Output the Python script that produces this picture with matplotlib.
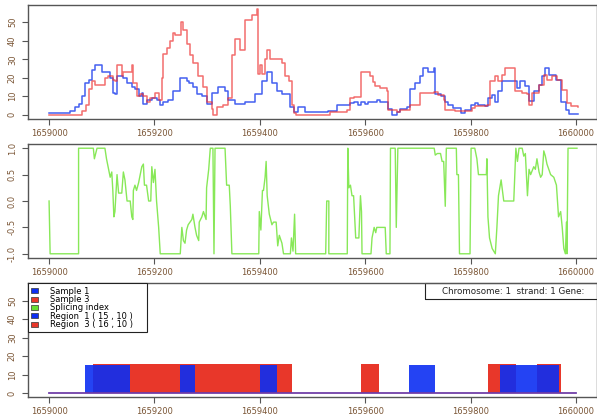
import numpy as np
import matplotlib
matplotlib.use('Agg')
import matplotlib.pyplot as plt
from matplotlib.patches import Patch

plt.rcParams['font.family'] = ['DejaVu Sans']

start = 1659000
end = 1660000

# coverage, sample 1 (blue) - offsets from start, value
s1_pos = [0, 34, 40, 49, 56, 62, 68, 75, 81, 87, 97, 100, 110, 116, 122, 125, 128, 141, 147, 157,
          163, 170, 176, 179, 185, 195, 204, 211, 217, 226, 236, 249, 255, 261, 265, 274, 280, 290,
          299, 309, 321, 334, 340, 353, 372, 391, 404, 413, 423, 432, 442, 458, 464, 473, 486, 499,
          527, 530, 546, 571, 578, 587, 593, 600, 606, 622, 628, 644, 651, 660, 666, 679, 685, 694,
          704, 709, 720, 730, 733, 743, 752, 758, 767, 781, 790, 800, 809, 815, 828, 834, 840, 847,
          853, 859, 868, 885, 888, 894, 904, 910, 920, 930, 936, 941, 949, 962, 971, 981, 987, 1003]
s1_val = [1, 1, 2, 4, 6, 10, 17, 19, 24, 27, 27, 23, 23, 20, 12, 11, 21, 20, 17, 15,
          14, 10, 12, 6, 8, 9, 8, 5, 7, 8, 13, 20, 20, 18, 17, 15, 11, 10,
          6, 12, 15, 13, 8, 6, 7, 11, 18, 23, 17, 13, 11, 4, 1.5, 4, 1.5, 1.3,
          1.3, 2.2, 5.4, 6.3, 7, 5, 7, 6, 7, 8, 7, 3, 0, 1.5, 3, 4, 14, 17.4,
          21, 25, 23, 25, 11, 10, 7, 5.4, 3.6, 0.9, 2.7, 5.4, 6.3, 5.4, 4.5, 9, 10.8, 7,
          12.6, 18.4, 18.4, 18, 14.4, 18, 15.3, 7.2, 12.6, 16.2, 20.7, 25, 21.6, 18.9, 7, 2.7, 0.4, 0.4]

# coverage, sample 3 (red)
s3_pos = [0, 56, 62, 71, 75, 81, 87, 97, 106, 112, 122, 125, 128, 138, 141, 154, 157, 160, 166, 173,
          179, 185, 192, 201, 209, 214, 217, 223, 230, 236, 239, 245, 251, 255, 261, 268, 274, 283,
          293, 299, 309, 312, 318, 331, 340, 347, 353, 363, 372, 385, 394, 397, 400, 404, 410, 413,
          419, 432, 442, 448, 455, 461, 465, 468, 527, 533, 565, 571, 578, 593, 609, 615, 619, 628,
          641, 644, 660, 666, 685, 704, 730, 739, 749, 752, 758, 771, 802, 809, 831, 837, 847, 853,
          859, 866, 882, 885, 898, 907, 910, 917, 930, 939, 945, 955, 965, 974, 983, 990, 1003]
s3_val = [0, 0, 2, 5, 14, 18, 16, 16, 20, 21, 19, 18, 27, 21, 23, 23, 27, 17, 10, 11,
          10, 7, 9, 12, 8, 20, 33, 36, 40, 44, 43, 43, 50, 46, 38, 32, 28, 21,
          15, 7, 3, 0, 4, 5, 9, 32, 41, 35, 51, 54, 57, 22, 27, 22, 30, 35,
          30, 30, 28, 21, 18, 5, 1, 0, 0, 1.5, 2.4, 9, 9.4, 23, 21, 17.5, 15.6, 14.6,
          13, 2.4, 1.5, 2.4, 5, 11.5, 12.4, 10.6, 8, 2.7, 2.7, 1.8, 3.6, 4.5, 5.4, 18, 20.7, 18,
          21.6, 25, 25, 12.6, 11.7, 11, 5.4, 11.7, 16.2, 21.6, 18.9, 20.7, 18.9, 13.5, 6.3, 4.5, 4]

# splicing index
si_pos = [0, 2, 56, 56, 84, 86, 91, 106, 109, 113, 116, 119, 121, 123, 125, 129, 132, 138, 141, 144,
          148, 154, 157, 159, 160, 163, 166, 170, 176, 179, 181, 185, 189, 193, 195, 198, 201, 204,
          208, 211, 249, 252, 255, 258, 261, 264, 271, 273, 277, 280, 284, 285, 290, 293, 298, 299,
          303, 306, 311, 313, 315, 334, 337, 342, 344, 347, 398, 399, 402, 405, 407, 410, 412, 414,
          418, 423, 426, 431, 434, 437, 442, 445, 458, 460, 463, 466, 468, 525, 527, 531, 531, 566,
          567, 569, 572, 575, 578, 582, 588, 591, 593, 594, 611, 613, 617, 620, 622, 626, 638, 640,
          647, 648, 657, 659, 662, 731, 733, 737, 743, 746, 749, 752, 754, 773, 774, 777, 779, 799,
          801, 808, 812, 815, 818, 830, 831, 833, 836, 841, 847, 850, 853, 858, 863, 882, 886, 889,
          892, 898, 901, 904, 908, 911, 914, 920, 923, 926, 930, 933, 936, 939, 942, 945, 952, 958,
          963, 967, 971, 974, 977, 980, 982, 983, 985, 1002]
si_val = [0, -1, -1, 1, 1, 0.8, 1, 1, 0.8, 0.6, 0.45, 0.55, 0.2, -0.3, -0.2, 0.5, 0.15, 0.15, 0.55, 0.4,
          0, 0, -0.3, -0.35, 0.2, 0.3, 0.2, 0.35, 0.65, 0.7, 0.3, 0.3, 0, 0, 0.65, 0.35, 0.6, 0,
          -0.5, -1, -1, -0.5, -0.75, -0.8, -0.55, -0.45, -0.35, -0.25, -0.5, -0.65, -0.75, -0.4, -0.3, -0.2, -0.35, 0.25,
          0.6, 1, 1, -1, 1, 1, 0.3, 0.3, -0.1, -1, -1, -0.2, -0.55, 0.2, 0.2, 0.45, 0.75, 0.1,
          -0.25, -0.45, -0.4, -0.4, -0.85, -0.65, -0.8, -1, -1, -0.7, -0.95, -0.25, -1, -1, 0, 0, -1, -1,
          1, 0.25, 0.3, 0.1, 0.1, -0.7, -0.7, 0.1, -0.2, -1, -1, -0.7, -0.5, -0.6, -0.5, -0.5, -0.5, -1,
          -1, 1, 1, -0.5, 1, 1, 0.87, 0.9, 0.9, 0.75, 0.75, -0.1, 1, 1, 0.5, 0.5, -1, -1,
          1, 1, 0.8, 0.5, 0.5, 0.5, 0.8, -0.3, -0.7, -0.9, -1, -0.5, 0.1, 0.4, 0, 0, 1, 0.75,
          1, 1, 0.85, 0.9, 0.1, 0.6, 0.5, 0.65, 0.6, 0.8, 0.55, 0.45, 0.5, 0.95, 0.85, 0.7, 0.5, 0.45,
          0.3, -0.3, -0.2, -0.5, -0.9, -1, -0.4, -1, 1, 1]

# regions (start, end) and heights
reg3_start = [1659084, 1659593, 1659833, 1659927]
reg3_end = [1659461, 1659627, 1659886, 1659971]
reg3_height = 16
reg1_start = [1659068, 1659249, 1659401, 1659684, 1659855, 1659886, 1659927]
reg1_end = [1659154, 1659277, 1659433, 1659733, 1659886, 1659927, 1659968]
reg1_height = 15

legend_labels = ['Sample 1', 'Sample 3', 'Splicing index', 'Region  1 ( 15 , 10 )', 'Region  3 ( 16 , 10 )']
legend_colors = ['#0c2ef2', '#e8372a', '#66dd33', '#0c2ef2', '#e8372a']
info_text = 'Chromosome: 1  strand: 1 Gene:'

blue = '#2444ee'
red = '#ee3030'
green = '#88e858'
tick_col = '#7a5535'
frame_col = '#555555'

fig = plt.figure(figsize=(5.97, 4.15), dpi=100)
ax1 = fig.add_axes([0.0469, 0.7133, 0.9531, 0.2747])
ax2 = fig.add_axes([0.0469, 0.3783, 0.9531, 0.2747])
ax3 = fig.add_axes([0.0469, 0.0422, 0.9531, 0.2747])

ax1.plot(start + np.array(s1_pos), s1_val, color=blue, lw=1.1, alpha=0.85, drawstyle='steps-post')
ax1.plot(start + np.array(s3_pos), s3_val, color=red, lw=1.1, alpha=0.7, drawstyle='steps-post')

ax2.plot(start + np.array(si_pos), si_val, color=green, lw=1.0)

for a, b in zip(reg3_start, reg3_end):
    ax3.bar(a, reg3_height, width=b - a, align='edge', color='#e8372a', edgecolor='none')
for a, b in zip(reg1_start, reg1_end):
    ax3.bar(a, reg1_height, width=b - a, align='edge', color='#0c2ef2', alpha=0.9, edgecolor='none')
ax3.plot([start, end], [0, 0], color=blue, lw=1.2)
ax3.plot([start, end], [0, 0], color=red, lw=1.2, alpha=0.4)

for ax in (ax1, ax2, ax3):
    ax.set_xlim(1658960, 1660040)
    ax.set_xticks(np.arange(start, end + 1, 200))
    ax.set_xticklabels([str(v) for v in range(start, end + 1, 200)])
    ax.tick_params(axis='both', direction='out', length=4, width=0.8, colors=frame_col,
                   labelcolor=tick_col, labelsize=6, pad=3)
    ax.tick_params(axis='y', pad=4)
    for s in ax.spines.values():
        s.set_color(frame_col)
        s.set_linewidth(1.0)

for ax in (ax1, ax3):
    ax.set_ylim(-2.28, 59.28)
    ax.set_yticks([0, 10, 20, 30, 40, 50])
    ax.set_yticklabels(['0', '10', '20', '30', '40', '50'], rotation=90, va='center')

ax2.set_ylim(-1.08, 1.08)
ax2.set_yticks([-1.0, -0.5, 0.0, 0.5, 1.0])
ax2.set_yticklabels(['-1.0', '-0.5', '0.0', '0.5', '1.0'], rotation=90, va='center')

# legend like R's legend() box
handles = [Patch(facecolor=c, edgecolor='#333333', lw=0.5) for c in legend_colors]
leg = ax3.legend(handles, legend_labels, loc='upper left', bbox_to_anchor=(0, 0.573, 0.209, 0.427),
                 mode='expand', borderaxespad=0,
                 fontsize=6, handlelength=0.8, handleheight=0.5, labelspacing=-0.08,
                 handletextpad=1.4, borderpad=0.4, fancybox=False, framealpha=1,
                 edgecolor='#222222')
leg.get_frame().set_linewidth(0.8)

ax3.text(0.727, 0.93, info_text, transform=ax3.transAxes,
         fontsize=6.3, va='center', ha='left', color='#222222')
ax3.add_patch(plt.Rectangle((0.697, 0.86), 0.31, 0.14, transform=ax3.transAxes,
                            fill=False, edgecolor='#222222', lw=0.8, clip_on=False))

fig.savefig('out.png', dpi=100)
